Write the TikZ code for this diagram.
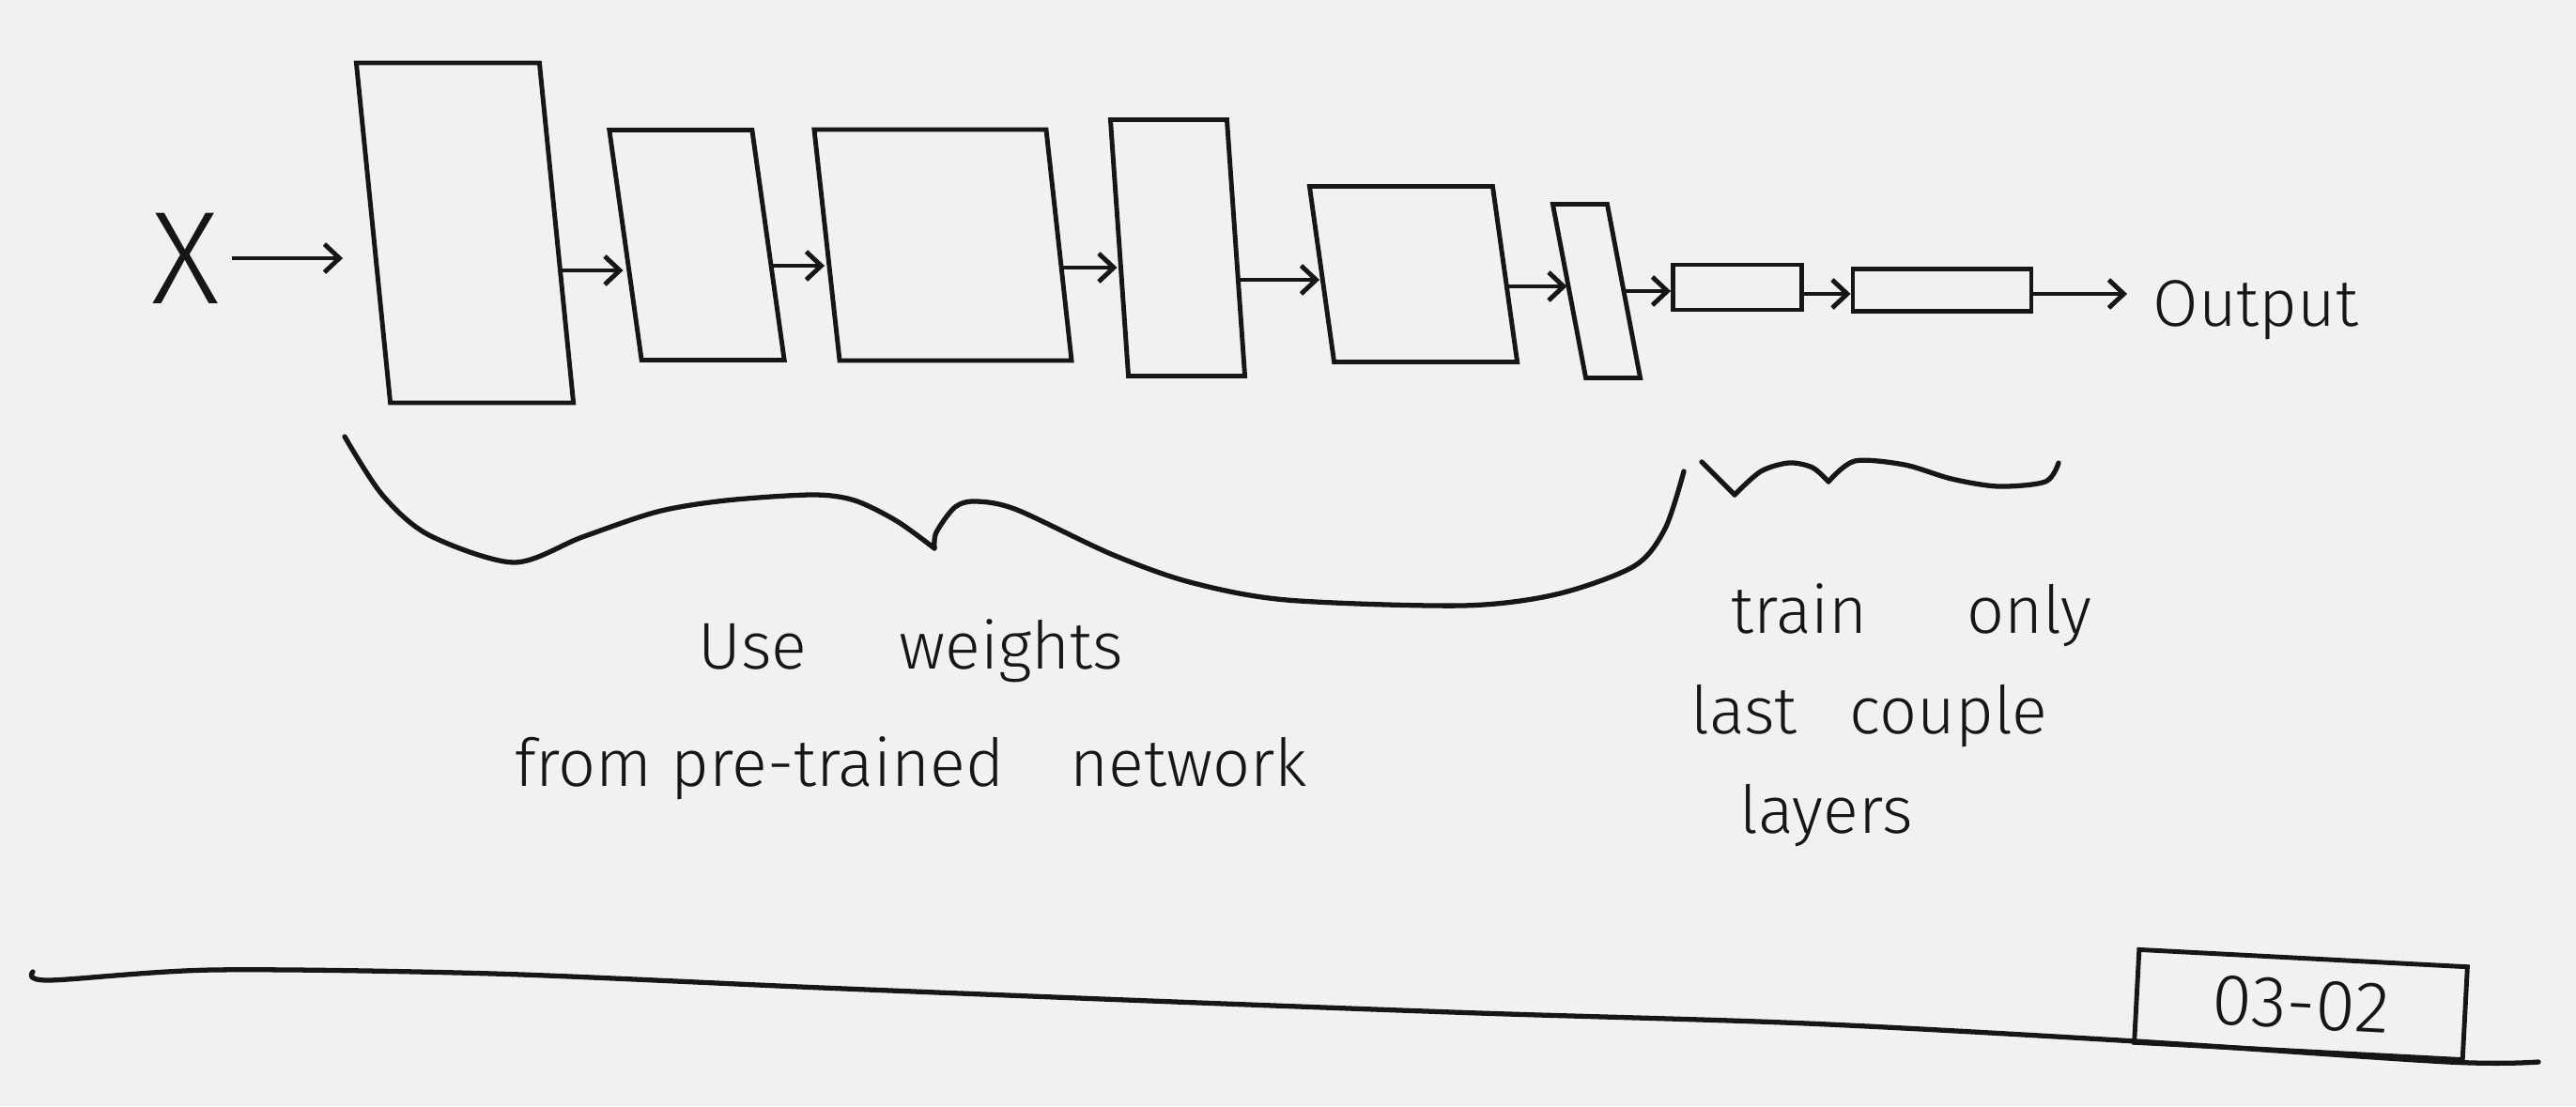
\documentclass[tikz,border=0pt]{standalone}
\usepackage{fontspec}
\setmainfont{Fira Sans Light}
\usetikzlibrary{arrows.meta}

\definecolor{paper}{RGB}{241,241,240}
\definecolor{ink}{RGB}{22,22,22}

\tikzset{
    layer/.style={draw=ink, line width=1.4pt, inner sep=0pt},
    arr/.style={draw=ink, line width=1.4pt, -{Straight Barb[length=1.6mm,width=3mm]}},
    brace/.style={draw=ink, line width=1.5pt, line cap=round, line join=round},
    hand/.style={text=ink, font=\fontsize{20}{35.6}\selectfont},
}

\begin{document}
\begin{tikzpicture}
    % Paper
    \fill[paper] (0,0) rectangle (27.43,-11.78);
    \useasboundingbox (0,0) rectangle (27.43,-11.78);

    % Input
    \node[hand, font=\fontsize{40}{40}\selectfont] (X) at (1.98,-2.75) {X};

    % Layers
    \node[layer, minimum width=1.95cm, minimum height=3.62cm, xslant=-0.10] (L1) at (4.95,-2.48) {};
    \node[layer, minimum width=1.52cm, minimum height=2.45cm, xslant=-0.14] (L2) at (7.42,-2.61) {};
    \node[layer, minimum width=2.47cm, minimum height=2.46cm, xslant=-0.11] (L3) at (10.04,-2.61) {};
    \node[layer, minimum width=1.24cm, minimum height=2.73cm, xslant=-0.07] (L4) at (12.54,-2.64) {};
    \node[layer, minimum width=1.95cm, minimum height=1.87cm, xslant=-0.14] (L5) at (15.05,-2.92) {};
    \node[layer, minimum width=0.58cm, minimum height=1.85cm, xslant=-0.19] (L6) at (17.00,-3.10) {};
    \node[layer, minimum width=1.37cm, minimum height=0.48cm] (L7) at (18.50,-3.06) {};
    \node[layer, minimum width=1.90cm, minimum height=0.45cm] (L8) at (20.68,-3.09) {};

    % Output
    \node[hand, anchor=base west] (out) at (22.80,-3.47) {Output};

    % Arrows
    \draw[arr, shorten >=0.3cm] (X.east) -- (X.east -| L1.west);
    \foreach \a/\b/\dy in {L1/L2/-0.40, L2/L3/-0.22, L3/L4/-0.24, L4/L5/-0.34, L5/L6/-0.13, L6/L7/0.0, L7/L8/-0.07}
    {
        \coordinate (s) at ([yshift=\dy cm]\a.east);
        \draw[arr] (s) -- (s -| \b.west);
    }
    \coordinate (s8) at ([yshift=-0.04cm]L8.east);
    \draw[arr, shorten >=0.15cm] (s8) -- (s8 -| out.west);

    % Brace under pre-trained layers
    \draw[brace] plot[smooth] coordinates {(3.67,-4.65) (4.07,-5.27) (4.57,-5.70) (5.47,-5.99) (6.20,-5.72)
        (7.00,-5.45) (7.73,-5.33) (8.65,-5.27) (9.10,-5.33) (9.55,-5.55) (9.95,-5.84)};
    \draw[brace] plot[smooth] coordinates {(9.95,-5.84) (9.97,-5.67) (10.17,-5.40) (10.40,-5.34) (10.83,-5.43)
        (11.83,-5.90) (12.67,-6.20) (13.70,-6.39) (15.57,-6.45) (16.57,-6.33) (17.40,-6.03) (17.73,-5.63) (17.93,-5.02)};

    % Brace under last layers
    \draw[brace] (18.12,-4.92) -- (18.47,-5.27);
    \draw[brace] plot[smooth] coordinates {(18.47,-5.27) (18.75,-5.02) (19.05,-4.93) (19.30,-4.98) (19.47,-5.13)};
    \draw[brace] plot[smooth] coordinates {(19.47,-5.13) (19.75,-4.91) (20.28,-4.95) (20.78,-5.10) (21.28,-5.18)
        (21.78,-5.13) (21.92,-4.93)};

    % Labels
    \node[hand, align=center] (pre) at (9.70,-7.56) {Use\hspace{1.4em}weights\\from pre-trained\quad network};
    \node[hand, font=\fontsize{20}{30.3}\selectfont, align=left, anchor=west] (last) at (17.88,-7.62)
        {\hspace*{0.43cm}train\hspace{1.5em}only\\last\hspace{0.8em}couple\\\hspace*{0.52cm}layers};

    % Ground line and tag
    \draw[brace] plot[smooth] coordinates {(0.35,-10.35) (0.52,-10.44) (2.27,-10.33) (5.25,-10.37) (8.75,-10.52) (12.25,-10.66) (15.75,-10.79) (19.24,-10.90) (22.74,-11.09) (26.07,-11.31) (27.03,-11.31)};
    \node[layer, hand, font=\fontsize{22}{22}\selectfont, rotate=-3, minimum width=3.5cm, minimum height=0.99cm] (tag) at (24.50,-10.70) {03-02};
\end{tikzpicture}
\end{document}
